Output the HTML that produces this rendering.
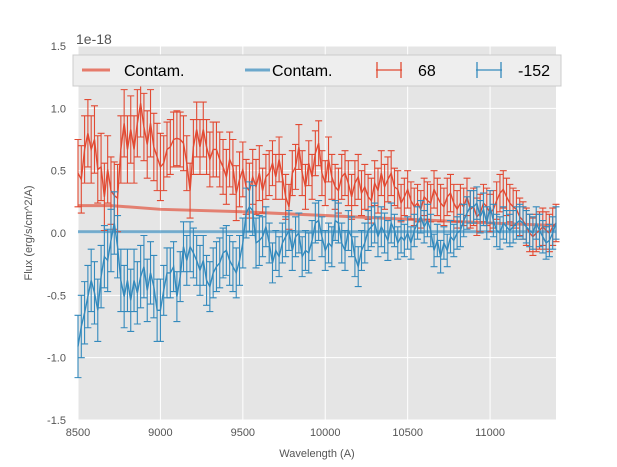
<!DOCTYPE html>
<html><head><meta charset="utf-8"><style>
body{margin:0;background:#fff;}
svg{display:block;font-family:"Liberation Sans",sans-serif;}
</style></head><body>
<svg id="chart" width="617" height="467">
<rect x="78" y="46" width="478" height="374" fill="#e5e5e5"/>
<g id="grid"></g><g id="marks"></g><g id="axes"></g>
<text x="76" y="44" font-size="14" fill="#555">1e-18</text>
<text x="317" y="457" font-size="11" fill="#555" text-anchor="middle">Wavelength (A)</text>
<text transform="translate(32,233) rotate(-90)" font-size="11" fill="#555" text-anchor="middle">Flux (erg/s/cm^2/A)</text>
<g>
<rect x="73" y="55" width="488" height="31" fill="#eeeeee" stroke="#cccccc"/>
<line x1="82" y1="70" x2="110" y2="70" stroke="#E24A33" stroke-opacity="0.7" stroke-width="3"/>
<text x="124" y="76" font-size="16" fill="#000">Contam.</text>
<line x1="245" y1="70" x2="270" y2="70" stroke="#348ABD" stroke-opacity="0.7" stroke-width="3"/>
<text x="272" y="76" font-size="16" fill="#000">Contam.</text>
<g stroke="#E24A33" stroke-width="1.3"><line x1="376" y1="70" x2="402" y2="70"/><line x1="377" y1="62" x2="377" y2="78"/><line x1="401" y1="62" x2="401" y2="78"/></g>
<text x="418" y="76" font-size="16" fill="#000">68</text>
<g stroke="#348ABD" stroke-width="1.3"><line x1="476" y1="70" x2="502" y2="70"/><line x1="477" y1="62" x2="477" y2="78"/><line x1="501" y1="62" x2="501" y2="78"/></g>
<text x="518" y="76" font-size="16" fill="#000">-152</text>
</g>
</svg>
<script>
const xTicks=[8500,9000,9500,10000,10500,11000];
const yTicks=[-1.5,-1.0,-0.5,0.0,0.5,1.0,1.5];
const yTickLabels=["-1.5","-1.0","-0.5","0.0","0.5","1.0","1.5"];
const wlStart=8500, wlStep=20;
const red68=[0.48,0.43,0.67,0.80,0.67,0.75,0.51,0.53,0.29,0.51,0.34,0.30,0.28,0.67,0.88,0.67,0.83,0.67,0.88,1.04,0.85,0.71,0.88,0.69,0.61,0.53,0.56,0.67,0.69,0.75,0.76,0.75,0.72,0.56,0.34,0.69,0.83,0.69,0.83,0.69,0.59,0.67,0.67,0.59,0.53,0.45,0.59,0.53,0.32,0.43,0.51,0.37,0.34,
0.45,0.37,0.48,0.34,0.45,0.48,0.56,0.45,0.59,0.45,0.29,0.21,0.48,0.53,0.69,0.48,0.37,0.56,0.45,0.64,0.72,0.48,0.40,0.59,0.45,0.37,0.34,0.45,0.48,0.40,0.29,0.40,0.45,0.32,0.37,0.29,0.26,0.40,0.34,0.48,0.37,0.43,0.48,0.37,
0.35,0.24,0.29,0.35,0.26,0.21,0.24,0.19,0.29,0.26,0.24,0.35,0.29,0.24,0.21,0.29,0.32,0.24,0.19,0.24,0.21,0.29,0.19,0.21,0.13,0.16,0.24,0.21,0.16,0.19,0.26,0.32,0.35,0.29,0.24,0.21,0.19,0.13,0.10,0.05,0,-0.03,0,0.02,0.05,0.02,0,0.05,0.08];
const blue152=[-0.91,-0.75,-0.64,-0.51,-0.38,-0.48,-0.62,-0.35,-0.19,-0.22,-0.06,0.08,-0.11,-0.38,-0.51,-0.38,-0.54,-0.38,-0.48,-0.35,-0.27,-0.46,-0.32,-0.43,-0.62,-0.62,-0.46,-0.32,-0.32,-0.27,-0.51,-0.35,-0.11,-0.22,-0.11,-0.16,-0.22,-0.30,-0.22,-0.38,-0.43,-0.32,-0.27,-0.24,-0.16,-0.14,-0.22,-0.27,-0.32,-0.22,-0.08,0.16,0.21,
0.18,-0.08,-0.06,-0.03,0.05,-0.08,-0.24,-0.14,-0.19,-0.08,-0.03,0.02,-0.14,-0.03,0,-0.19,-0.14,-0.16,-0.06,0.08,0.10,-0.03,-0.14,-0.08,-0.11,0.10,0.08,-0.08,-0.14,0.02,-0.03,-0.19,-0.27,-0.14,-0.08,0.02,0.05,0.08,-0.03,0.05,0,-0.06,0.08,0.02,
-0.08,-0.03,-0.06,0,-0.08,0.02,0.08,0.13,0.05,0.10,0.02,-0.14,-0.06,-0.19,-0.08,-0.14,-0.03,-0.06,0,0.02,0.10,0.16,0.21,0.21,0.24,0.13,0.19,0.08,0.21,0.10,0.02,0,0.08,0.05,0.02,0.05,0.08,0.10,0.08,0.05,0.02,0,0.08,0.02,-0.03,-0.08,-0.06,0,0.08];
const errBreakWl=[9000,9600,10400,11400];
const redErrVals=[0.27,0.22,0.18,0.15];
const blueErrVals=[0.25,0.2,0.16,0.13];
const contamWl=[8500,8700,9000,9500,10000,10500,11000,11400];
const contamRed=[0.22,0.22,0.19,0.17,0.14,0.11,0.08,0.06];
const contamBlue=[0.01,0.01,0.01,0.01,0.01,0.01,0.01,0.01];

const X=w=>78+(w-8500)*(478/2900);
const Y=v=>233-v*(374/3);
const NS="http://www.w3.org/2000/svg";
function mk(tag,attrs,parent){const e=document.createElementNS(NS,tag);for(const k in attrs)e.setAttribute(k,attrs[k]);parent.appendChild(e);return e;}
const grid=document.getElementById('grid'),marks=document.getElementById('marks'),axes=document.getElementById('axes');
xTicks.forEach((t,i)=>{
 const l=mk('line',{x1:X(t),x2:X(t),y1:46,y2:420,stroke:'#fff','stroke-width':1},grid);
 
 
 const tx=mk('text',{x:X(t),y:436,'font-size':11,fill:'#555','text-anchor':'middle'},axes);
 tx.textContent=t;
 
 
});
yTicks.forEach((t,i)=>{
 const l=mk('line',{x1:78,x2:556,y1:Y(t),y2:Y(t),stroke:'#fff','stroke-width':1},grid);
 
 
 const tx=mk('text',{x:66,y:Y(t)+4,'font-size':11,fill:'#555','text-anchor':'end'},axes);
 tx.textContent=yTickLabels[i];
 
 
});
function errAt(w,vals){for(let i=0;i<errBreakWl.length;i++)if(w<=errBreakWl[i])return vals[i];return vals[vals.length-1];}
function contam(vals,color,name){
 const p=mk('polyline',{points:contamWl.map((w,i)=>X(w)+','+Y(vals[i])).join(' '),fill:'none',stroke:color,'stroke-opacity':0.65,'stroke-width':3},marks);
 
 
}
function series(vals,errVals,color,name){
 const g=mk('g',{stroke:color,'stroke-width':1.1,fill:'none'},marks);
 
 
 const pts=[];
 vals.forEach((v,i)=>{
  const w=wlStart+i*wlStep,x=X(w),e=errAt(w,errVals);
  pts.push(x+','+Y(v));
  const b=mk('path',{d:`M${x},${Y(v-e)}V${Y(v+e)}M${x-3.5},${Y(v-e)}h7M${x-3.5},${Y(v+e)}h7`},g);
  
  
 });
 const l=mk('polyline',{points:pts.join(' '),'stroke-width':1.4},g);
 
 
}
contam(contamRed,'#E24A33','contam-red-line');
contam(contamBlue,'#348ABD','contam-blue-line');
series(red68,redErrVals,'#E24A33','series-68');
series(blue152,blueErrVals,'#348ABD','series-neg152');
</script>
</body></html>
